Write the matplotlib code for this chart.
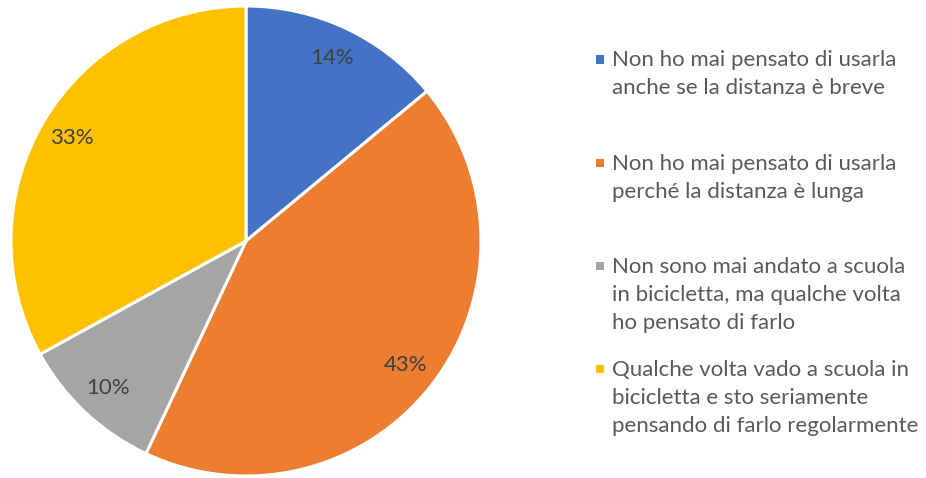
import matplotlib
matplotlib.use("Agg")
import matplotlib.pyplot as plt
from matplotlib.patches import Rectangle

# survey answers (share of respondents, %)
labels = [
    "Non ho mai pensato di usarla\nanche se la distanza è breve",
    "Non ho mai pensato di usarla\nperché la distanza è lunga",
    "Non sono mai andato a scuola\nin bicicletta, ma qualche volta\nho pensato di farlo",
    "Qualche volta vado a scuola in\nbicicletta e sto seriamente\npensando di farlo regolarmente",
]
values = [14, 43, 10, 33]
colors = ["#4472C4", "#ED7D31", "#A5A5A5", "#FFC000"]

W, H = 926, 478
plt.rcParams["font.family"] = ["Lato", "DejaVu Sans"]

fig = plt.figure(figsize=(W / 100, H / 100), dpi=100)


def fx(x):
    return x / W


def fy(y):
    return 1 - y / H


# pie: centre ~ (246, 241) px, radius ~235 px
cx, cy, r = 246, 241, 235
ax = fig.add_axes([fx(cx - r), fy(cy + r), 2 * r / W, 2 * r / H])
ax.pie(values, colors=colors, startangle=90, counterclock=False, radius=1,
       autopct="%1.0f%%", pctdistance=0.86,
       wedgeprops=dict(edgecolor="white", linewidth=2.2),
       textprops=dict(color="#404040", fontsize=16))
ax.set_xlim(-1, 1)
ax.set_ylim(-1, 1)
ax.set_aspect("equal")
ax.axis("off")

# legend, laid out like Excel's right-hand legend
x_box, x_txt = 596, 612
first_base, entry_step, line_step = 66.5, 103.2, 28
for i, (lab, col) in enumerate(zip(labels, colors)):
    base = first_base + entry_step * i
    fig.add_artist(Rectangle((fx(x_box), fy(base - 3)), 8 / W, 8 / H,
                             transform=fig.transFigure, color=col, lw=0))
    for j, line in enumerate(lab.split("\n")):
        fig.text(fx(x_txt), fy(base + line_step * j), line, fontsize=16,
                 color="#595959", va="baseline", ha="left")

fig.savefig("out.png", dpi=100)
